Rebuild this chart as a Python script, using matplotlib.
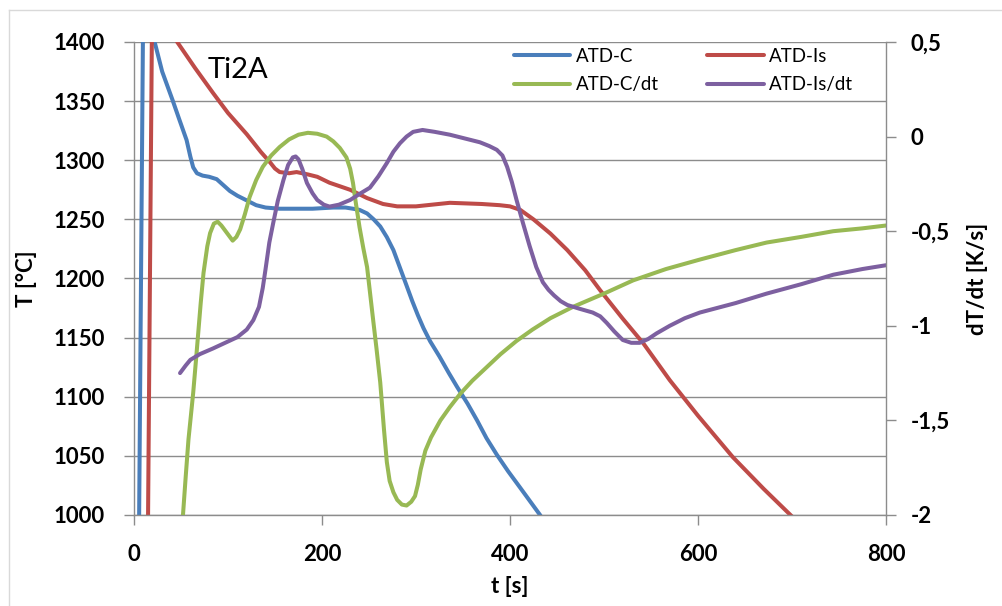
import matplotlib
matplotlib.use("Agg")
import matplotlib.pyplot as plt
from matplotlib.lines import Line2D
from matplotlib.ticker import FixedLocator, FuncFormatter

# ---------------- data ----------------
t_c = [3, 5.5, 9.5, 13, 17, 22, 30, 41, 48, 56, 60, 63, 67, 73, 80, 88, 95, 102, 110, 120,
       130, 140, 155, 177, 190, 212, 225, 233, 240, 248, 255, 262, 269, 276, 283, 290, 296,
       302, 308, 315, 325, 335, 344, 355, 365, 375, 386, 398, 410, 421, 432, 440]
T_c = [800, 1000, 1400, 1450, 1450, 1400, 1375, 1351, 1335, 1317, 1303, 1294, 1289, 1287,
       1286, 1284, 1279, 1274, 1270, 1266, 1262, 1260, 1259, 1259, 1259, 1260, 1260, 1259,
       1258, 1255, 1250, 1244, 1235, 1224, 1209, 1194, 1181, 1169, 1158, 1147, 1134, 1120,
       1108, 1094, 1080, 1065, 1051, 1037, 1024, 1012, 1000, 990]

t_is = [13, 15, 19, 25, 35, 46, 65, 84, 100, 120, 135, 145, 150, 155, 165, 173, 185, 195,
        208, 230, 248, 265, 280, 300, 336, 370, 389, 400, 411, 425, 443, 461, 480, 496, 520,
        542, 570, 600, 637, 670, 701, 710]
T_is = [800, 1000, 1400, 1440, 1430, 1400, 1378, 1357, 1340, 1322, 1307, 1298, 1293, 1290,
        1289, 1290, 1288, 1286, 1281, 1275, 1268, 1263, 1261, 1261, 1264, 1263, 1262, 1261,
        1258, 1250, 1238, 1224, 1207, 1190, 1166, 1145, 1114, 1084, 1049, 1022, 998, 990]

t_cdt = [50, 52, 55, 58, 63, 66, 68, 71, 74, 78, 81, 85, 89, 93, 99, 105, 109, 113, 118,
         123, 130, 137, 146, 155, 165, 175, 185, 195, 205, 212, 219, 226, 230, 233, 236,
         240, 244, 248, 251, 254, 258, 262, 266, 269, 272, 276, 280, 285, 290, 295, 299,
         302, 305, 310, 316, 326, 336, 347, 360, 375, 390, 407, 424, 443, 467, 500, 531,
         566, 602, 640, 673, 710, 744, 775, 800]
d_cdt = [-2.3, -2.01, -1.8, -1.6, -1.355, -1.18, -1.06, -0.88, -0.72, -0.58, -0.51, -0.46,
         -0.45, -0.47, -0.51, -0.55, -0.53, -0.49, -0.41, -0.32, -0.23, -0.16, -0.1, -0.055,
         -0.015, 0.01, 0.02, 0.015, 0.0, -0.025, -0.06, -0.11, -0.17, -0.245, -0.35, -0.48,
         -0.59, -0.69, -0.82, -0.95, -1.12, -1.30, -1.55, -1.72, -1.82, -1.88, -1.92, -1.945,
         -1.95, -1.93, -1.90, -1.84, -1.76, -1.66, -1.59, -1.50, -1.43, -1.36, -1.29, -1.22,
         -1.15, -1.08, -1.02, -0.96, -0.90, -0.83, -0.76, -0.70, -0.65, -0.60, -0.56, -0.53,
         -0.50, -0.485, -0.47]

t_isdt = [49, 55, 60, 70, 84, 97, 110, 120, 127, 133, 137, 140, 144, 148, 153, 159, 164,
          169, 172, 175, 179, 184, 190, 195, 202, 208, 218, 230, 241, 251, 260, 269, 276,
          283, 290, 297, 307, 320, 336, 352, 368, 378, 386, 392, 397, 402, 407, 414, 421,
          428, 435, 441, 447, 454, 461, 474, 488, 496, 503, 511, 520, 529, 538, 547, 556,
          570, 586, 602, 640, 673, 710, 744, 775, 800]
d_isdt = [-1.25, -1.21, -1.18, -1.15, -1.12, -1.09, -1.06, -1.02, -0.97, -0.90, -0.80,
          -0.70, -0.56, -0.46, -0.34, -0.23, -0.15, -0.11, -0.105, -0.12, -0.17, -0.245,
          -0.30, -0.335, -0.36, -0.37, -0.36, -0.335, -0.30, -0.27, -0.21, -0.14, -0.08,
          -0.035, 0.0, 0.025, 0.035, 0.025, 0.01, -0.01, -0.03, -0.05, -0.07, -0.10, -0.16,
          -0.24, -0.335, -0.46, -0.58, -0.69, -0.77, -0.81, -0.84, -0.87, -0.89, -0.91,
          -0.93, -0.95, -0.985, -1.03, -1.075, -1.09, -1.09, -1.07, -1.04, -1.0, -0.96,
          -0.93, -0.88, -0.83, -0.78, -0.73, -0.70, -0.68]

x_ticks = [0, 200, 400, 600, 800]
T_ticks = [1000, 1050, 1100, 1150, 1200, 1250, 1300, 1350, 1400]
d_ticks = [-2, -1.5, -1, -0.5, 0, 0.5]

labels = ["ATD-C", "ATD-Is", "ATD-C/dt", "ATD-Is/dt"]
colors = ["#4A7EBB", "#BE4B48", "#98B954", "#7D60A0"]

# ---------------- figure ----------------
plt.rcParams['font.family'] = ['Lato', 'DejaVu Sans']
fig = plt.figure(figsize=(10.02, 6.06), dpi=100)
ax = fig.add_axes([0.1337, 0.1502, 0.7505, 0.7805])
ax2 = ax.twinx()

grid_c = "#8C8C8C"
lw = 2.9
style = dict(lw=lw, solid_joinstyle='round', solid_capstyle='round')
l1, = ax.plot(t_c, T_c, color=colors[0], **style)
l2, = ax.plot(t_is, T_is, color=colors[1], **style)
l3, = ax2.plot(t_cdt, d_cdt, color=colors[2], **style)
l4, = ax2.plot(t_isdt, d_isdt, color=colors[3], **style)

ax.set_xlim(0, 800)
ax.set_ylim(1000, 1400)
ax2.set_ylim(-2, 0.5)

ax.xaxis.set_major_locator(FixedLocator(x_ticks))
ax.yaxis.set_major_locator(FixedLocator(T_ticks))
ax2.yaxis.set_major_locator(FixedLocator(d_ticks))

def comma_fmt(v, pos):
    return ("%g" % v).replace(".", ",")
ax2.yaxis.set_major_formatter(FuncFormatter(comma_fmt))

ax.grid(axis='y', color=grid_c, lw=1.0)
ax.set_axisbelow(True)

for a in (ax, ax2):
    for s in a.spines.values():
        s.set_color(grid_c)
        s.set_linewidth(1.0)
    a.spines['top'].set_visible(False)

ax.spines['right'].set_visible(False)
ax2.spines['left'].set_visible(False)
ax2.spines['bottom'].set_visible(False)

ax.tick_params(axis='x', direction='out', length=7, width=1, color=grid_c, pad=14)
ax.tick_params(axis='y', direction='out', length=7, width=1, color=grid_c, pad=14)
ax2.tick_params(axis='y', direction='out', length=7, width=1, color=grid_c, pad=11)
for lab in ax.get_xticklabels() + ax.get_yticklabels() + ax2.get_yticklabels():
    lab.set_fontsize(16)
    lab.set_fontweight('bold')

ax.set_xlabel("t [s]", fontsize=16, fontweight='bold', labelpad=8)
ax.set_ylabel("T [°C]", fontsize=16, fontweight='bold', labelpad=12)
ax2.set_ylabel("dT/dt [K/s]", fontsize=16, fontweight='bold', labelpad=12)

ax.text(0.098, 0.941, "Ti2A", transform=ax.transAxes, fontsize=21, va='center', ha='left')

leg = ax2.legend([l1, l3, l2, l4], [labels[0], labels[2], labels[1], labels[3]],
                 ncol=2, loc='upper left', bbox_to_anchor=(0.505, 0.988),
                 frameon=False, fontsize=13.5, handlelength=3.0, handletextpad=0.3,
                 columnspacing=2.6, labelspacing=0.62, borderpad=0, borderaxespad=0)

# outer chart frame (light grey)
fig.add_artist(Line2D([0.009, 0.009], [0.0, 0.984], transform=fig.transFigure, color="#D9D9D9", lw=1))
fig.add_artist(Line2D([0.009, 1.0], [0.984, 0.984], transform=fig.transFigure, color="#D9D9D9", lw=1))

fig.savefig("out.png", dpi=100)
